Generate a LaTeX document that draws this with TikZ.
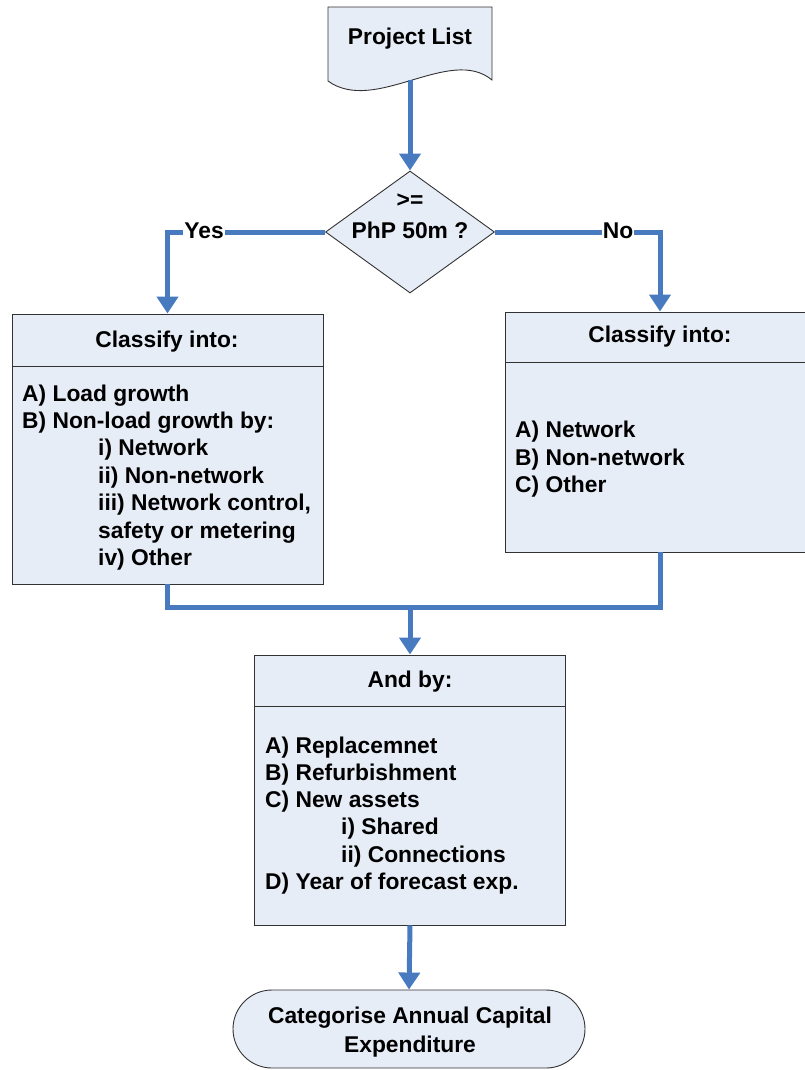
\documentclass[tikz,border=0pt]{standalone}
\usepackage{fontspec}
\setmainfont{Liberation Sans}
\usetikzlibrary{arrows.meta,shapes.geometric}
\definecolor{flowblue}{RGB}{72,122,192}
\definecolor{boxfill}{RGB}{231,237,247}
\definecolor{boxline}{RGB}{50,50,50}
\begin{document}
\begin{tikzpicture}[x=1pt,y=-1pt,
  every node/.style={font=\fontsize{22.8}{27}\selectfont\bfseries},
  shapebox/.style={draw=boxline, line width=0.9pt, fill=boxfill, inner sep=0},
  flow/.style={draw=flowblue, line width=5pt},
  flowarrow/.style={flow, -{Triangle[length=17pt,width=21pt]}},
  txt/.style={inner sep=0, anchor=base west},
  ctr/.style={inner sep=0, anchor=base},
  lbl/.style={fill=white, inner sep=1pt, anchor=base, yshift=-6pt, text=black}]
\useasboundingbox (0,0) rectangle (804,1070);

% document shape
\filldraw[draw=boxline, fill=boxfill, line width=0.9pt]
  (328,7) -- (492,7) -- (492,80) .. controls (450,45) and (375,115) .. (328,81) -- cycle;
\node[minimum width=164pt, minimum height=73pt, inner sep=0] (doc) at (410,43.5) {};
\node[ctr] (tdoc) at (410,45) {Project List};

% decision
\node[diamond, shapebox, minimum width=169pt, minimum height=122pt] (dia) at (410,232) {};
\node[ctr] (td1) at (410,207) {>=};
\node[ctr] (td2) at (410,238) {PhP 50m ?};

% left box
\node[shapebox, minimum width=311pt, minimum height=270pt] (lbox) at (167.5,449) {};
\draw[draw=boxline, line width=0.9pt] (12,366) -- (323,366);
\node[ctr] (lh) at (167,347) {Classify into:};
\node[txt] (l1) at (22,401) {A) Load growth};
\node[txt] (l2) at (22,428) {B) Non-load growth by:};
\node[txt] (l3) at (98,455) {i) Network};
\node[txt] (l4) at (98,483) {ii) Non-network};
\node[txt] (l5) at (98,510) {iii) Network control,};
\node[txt] (l6) at (98,538) {safety or metering};
\node[txt] (l7) at (98,565) {iv) Other};

% right box
\node[shapebox, minimum width=310pt, minimum height=240pt] (rbox) at (660,432) {};
\draw[draw=boxline, line width=0.9pt] (505,362) -- (815,362);
\node[ctr] (rh) at (660,342) {Classify into:};
\node[txt] (r1) at (515,437) {A) Network};
\node[txt] (r2) at (515,465) {B) Non-network};
\node[txt] (r3) at (515,492) {C) Other};

% and box
\node[shapebox, minimum width=311pt, minimum height=270pt] (abox) at (410,790) {};
\draw[draw=boxline, line width=0.9pt] (254.5,706) -- (565.5,706);
\node[ctr] (ah) at (410,687) {And by:};
\node[txt] (a1) at (265,753) {A) Replacemnet};
\node[txt] (a2) at (265,780) {B) Refurbishment};
\node[txt] (a3) at (265,807) {C) New assets};
\node[txt] (a4) at (341,834) {i) Shared};
\node[txt] (a5) at (341,862) {ii) Connections};
\node[txt] (a6) at (265,889) {D) Year of forecast exp.};

% terminal
\node[shapebox, rounded corners=39pt, minimum width=352pt, minimum height=78pt] (term) at (409,1029) {};
\node[ctr] (t1) at (410,1023) {Categorise Annual Capital};
\node[ctr] (t2) at (410,1052) {Expenditure};

% connectors
\draw[flowarrow] (doc.south) -- (dia.north);
\draw[flowarrow] (dia.west) -| node[lbl, pos=0.384] (yes) {Yes} (lbox.north);
\draw[flowarrow] (dia.east) -| node[lbl, pos=0.373] (no) {No} (rbox.north);
\coordinate (m) at (410,607);
\draw[flow] (lbox.south) |- (m) -| (rbox.south);
\draw[flowarrow] (m) -- (abox.north);
\draw[flowarrow] (abox.south) -- (term.north);
\end{tikzpicture}
\end{document}
